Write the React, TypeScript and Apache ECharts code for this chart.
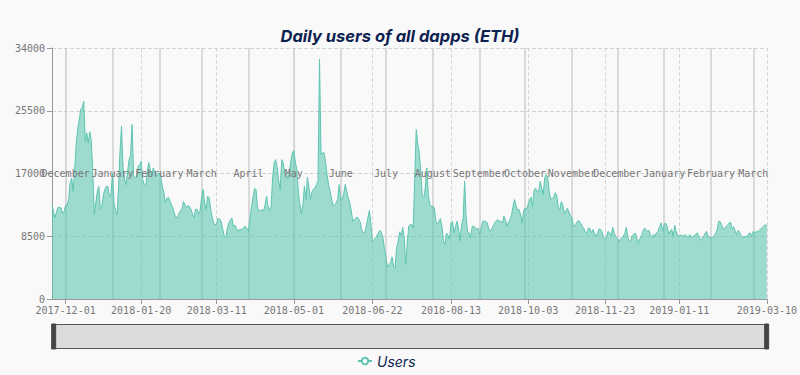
import React, { useEffect, useRef } from 'react';
import * as echarts from 'echarts';

// Categories: one per day from 2017-11-22 to 2019-03-10
const firstDay = [2017, 10, 22];
const dayCount = 474;
const dates: string[] = [];
(() => {
  const d = new Date(Date.UTC(firstDay[0], firstDay[1], firstDay[2]));
  for (let i = 0; i < dayCount; i++) {
    dates.push(d.toISOString().slice(0, 10));
    d.setUTCDate(d.getUTCDate() + 1);
  }
})();

const tickLabels = [
  '2017-12-01', '2018-01-20', '2018-03-11', '2018-05-01', '2018-06-22',
  '2018-08-13', '2018-10-03', '2018-11-23', '2019-01-11', '2019-03-10',
];

const monthStarts = [
  '2017-12-01', '2018-01-01', '2018-02-01', '2018-03-01', '2018-04-01', '2018-05-01',
  '2018-06-01', '2018-07-01', '2018-08-01', '2018-09-01', '2018-10-01', '2018-11-01',
  '2018-12-01', '2019-01-01', '2019-02-01', '2019-03-01',
];
const monthNames = [
  'December', 'January', 'February', 'March', 'April', 'May', 'June', 'July',
  'August', 'September', 'October', 'November', 'December', 'January', 'February', 'March',
];

const yTicks = [0, 8500, 17000, 25500, 34000];

const userCounts = [
  12790, 11800, 10980, 11800, 12430, 12400, 12340, 11600, 11800, 12700,
  12600, 13500, 15700, 16400, 14600, 17500, 20930, 23000, 24200, 25670,
  25900, 26800, 21380, 22510, 21150, 22650, 21500, 17000, 11440, 13000,
  14600, 15280, 12200, 12500, 14150, 14830, 15300, 15200, 13920, 13920,
  17090, 13000, 12000, 11440, 15000, 20000, 23410, 17800, 16200, 15500,
  17200, 18890, 19570, 23640, 16630, 16500, 16400, 17990, 18200, 18670,
  16180, 15500, 15280, 17090, 18500, 17500, 16630, 17760, 17200, 16630,
  16900, 17090, 16500, 15200, 14370, 13020, 13600, 13790, 13300, 12800,
  12340, 11500, 11100, 10980, 11600, 12000, 12200, 13200, 12800, 12340,
  12700, 12500, 12100, 11500, 11000, 12200, 12110, 11500, 12000, 13800,
  14830, 13000, 12110, 13920, 13700, 12200, 11000, 10310, 10000, 10300,
  10980, 10760, 10500, 9400, 8500, 8270, 9600, 10300, 10700, 10980,
  9850, 10000, 9600, 9170, 9400, 9400, 9500, 9720, 9850, 9500,
  9170, 10980, 12500, 13800, 14960, 14830, 12340, 11890, 12000, 12110,
  11890, 12800, 13920, 12500, 11900, 12570, 16500, 18500, 18890, 17800,
  16000, 14830, 18890, 18440, 17000, 17000, 16300, 17000, 18700, 19800,
  20110, 18600, 17500, 14500, 12800, 11600, 12800, 15280, 13470, 16500,
  15000, 13500, 14500, 14900, 15000, 15500, 16000, 32450, 19570, 19800,
  19800, 18500, 16800, 15500, 14600, 13500, 12600, 12790, 13000, 13470,
  15500, 13470, 13470, 14300, 15500, 14600, 13700, 13000, 12000, 10530,
  10760, 10980, 11070, 10800, 10400, 9300, 8950, 9000, 9900, 11000,
  12000, 10080, 7820, 8050, 8200, 8600, 9000, 9300, 9000, 8200,
  6800, 5560, 4290, 4660, 4880, 5700, 4400, 4200, 6900, 7820,
  9100, 8600, 9700, 8500, 4660, 7400, 9850, 10080, 10080, 9630,
  16500, 22960, 21000, 19800, 17300, 13920, 13700, 15050, 17760, 14000,
  12790, 12570, 12570, 12300, 10530, 10100, 10500, 10900, 9800, 7800,
  7400, 8900, 8600, 8100, 10310, 10530, 8950, 9850, 10530, 9500,
  7900, 10080, 10900, 15960, 11000, 9170, 8950, 8270, 9850, 9850,
  9700, 9400, 9630, 8720, 9600, 10530, 10530, 10530, 10310, 9500,
  9170, 9500, 9900, 10300, 10600, 10760, 10530, 10530, 10310, 11210,
  10700, 9850, 10400, 10700, 11300, 12500, 13470, 12600, 12110, 12110,
  11440, 10310, 11900, 12340, 12110, 12800, 13400, 13800, 12500, 14800,
  15000, 14600, 14500, 15900, 15050, 14150, 16400, 16860, 16500, 14500,
  13500, 13600, 13800, 14400, 14000, 12400, 12110, 13200, 12700, 11600,
  11900, 12300, 11800, 11300, 10980, 9850, 9850, 10300, 10600, 10530,
  10200, 9800, 9500, 9000, 8900, 9630, 9500, 8950, 9400, 8800,
  8500, 9000, 9500, 9400, 9000, 8300, 8100, 8500, 9170, 8950,
  8600, 9700, 8900, 8400, 8200, 7800, 8100, 8270, 8500, 8900,
  9700, 8300, 7700, 8000, 8600, 8800, 8900, 8200, 7590, 8200,
  8600, 9200, 9600, 9400, 9200, 9300, 8600, 8400, 8700, 8600,
  8950, 9170, 9800, 10310, 9200, 10080, 10300, 9850, 8750, 9200,
  9400, 8500, 10000, 9100, 8600, 8500, 8650, 8600, 8550, 8700,
  8500, 8360, 8720, 8300, 8450, 8600, 8800, 8950, 8500, 8050,
  8100, 8450, 8800, 9170, 8550, 8400, 8300, 8300, 8500, 8900,
  9300, 10530, 10500, 10080, 9450, 9600, 9800, 10000, 10300, 10400,
  9500, 9800, 9200, 8720, 9300, 9000, 8600, 8350, 8400, 8500,
  8400, 8900, 8950, 8500, 9170, 8950, 9150, 9100, 9300, 9500,
  9700, 9900, 10080, 9800,
];

const MONO = '"DejaVu Sans Mono", "Liberation Mono", monospace';
const NAVY = '#0c2150';
const TEAL = '#5cc4b0';

export default function App() {
  const ref = useRef<HTMLDivElement>(null);

  useEffect(() => {
    if (!ref.current) return;
    const chart = echarts.init(ref.current, undefined, { renderer: 'svg' });
    const isTick = (_idx: number, val: string) => tickLabels.includes(val);

    chart.setOption({
      animation: false,
      backgroundColor: '#f9f9f9',
      title: {
        text: 'Daily users of all dapps (ETH)',
        left: 'center',
        top: 22,
        textStyle: {
          fontFamily: 'Inter, "Noto Sans", sans-serif',
          fontStyle: 'italic',
          fontWeight: 'bold',
          fontSize: 16.5,
          color: NAVY,
        },
      },
      grid: { left: 52, right: 33, top: 48, bottom: 76 },
      legend: {
        data: ['Users'],
        left: 352,
        top: 349,
        itemWidth: 14,
        itemHeight: 8,
        itemGap: 6,
        textStyle: {
          fontFamily: 'Inter, "Noto Sans", sans-serif',
          fontStyle: 'italic',
          fontSize: 14,
          color: NAVY,
        },
      },
      dataZoom: [
        {
          type: 'slider',
          xAxisIndex: 0,
          start: 0,
          end: 100,
          left: 52,
          right: 33,
          top: 324,
          height: 25,
          showDetail: false,
          showDataShadow: false,
          brushSelect: false,
          moveHandleSize: 0,
          backgroundColor: 'rgba(0,0,0,0)',
          fillerColor: '#dcdcdc',
          borderColor: '#555',
          borderRadius: 0,
          handleIcon: 'path://M0,0 L16,0 L16,100 L0,100 Z',
          handleSize: '100%',
          handleStyle: { color: '#444', borderColor: '#444' },
        },
      ],
      xAxis: {
        type: 'category',
        data: dates,
        boundaryGap: false,
        axisLine: { lineStyle: { color: '#999' } },
        axisTick: { interval: isTick, lineStyle: { color: '#999' } },
        axisLabel: {
          interval: isTick,
          color: '#777',
          fontFamily: MONO,
          fontSize: 10,
          margin: 6,
        },
        splitLine: {
          show: true,
          interval: isTick,
          lineStyle: { type: 'dashed', color: '#d8d8d8' },
        },
      },
      yAxis: {
        type: 'value',
        min: yTicks[0],
        max: yTicks[yTicks.length - 1],
        interval: yTicks[1] - yTicks[0],
        axisLine: { show: true, lineStyle: { color: '#999' } },
        axisTick: { show: true, lineStyle: { color: '#999' } },
        axisLabel: {
          color: '#777',
          fontFamily: MONO,
          fontSize: 10,
          margin: 7,
          formatter: (v: number) => String(v),
        },
        splitLine: { lineStyle: { type: 'dashed', color: '#d3d3d3' } },
      },
      series: [
        {
          name: 'Month starts',
          type: 'line',
          data: [],
          z: 1,
          silent: true,
          markLine: {
            z: 1,
            silent: true,
            symbol: 'none',
            label: { show: false },
            lineStyle: { type: 'solid', color: '#cfcfcf', width: 1.5 },
            data: monthStarts.map((m) => ({ xAxis: m })),
          },
        },
        {
          name: 'Users',
          type: 'line',
          z: 3,
          data: userCounts,
          showSymbol: false,
          symbol: 'emptyCircle',
          lineStyle: { width: 1, color: TEAL },
          itemStyle: { color: TEAL },
          areaStyle: { color: TEAL, opacity: 0.58 },
          markPoint: {
            z: 6,
            silent: true,
            symbol: 'rect',
            symbolSize: 1,
            itemStyle: { color: 'rgba(0,0,0,0)' },
            label: {
              show: true,
              position: 'inside',
              formatter: '{b}',
              color: '#777',
              fontFamily: MONO,
              fontSize: 10,
            },
            data: monthStarts.map((m, i) => ({ name: monthNames[i], coord: [m, yTicks[2]] })),
          },
        },
      ],
    });

    return () => chart.dispose();
  }, []);

  return (
    <div
      ref={ref}
      style={{ position: 'fixed', left: 0, top: 0, width: 800, height: 375 }}
    />
  );
}
